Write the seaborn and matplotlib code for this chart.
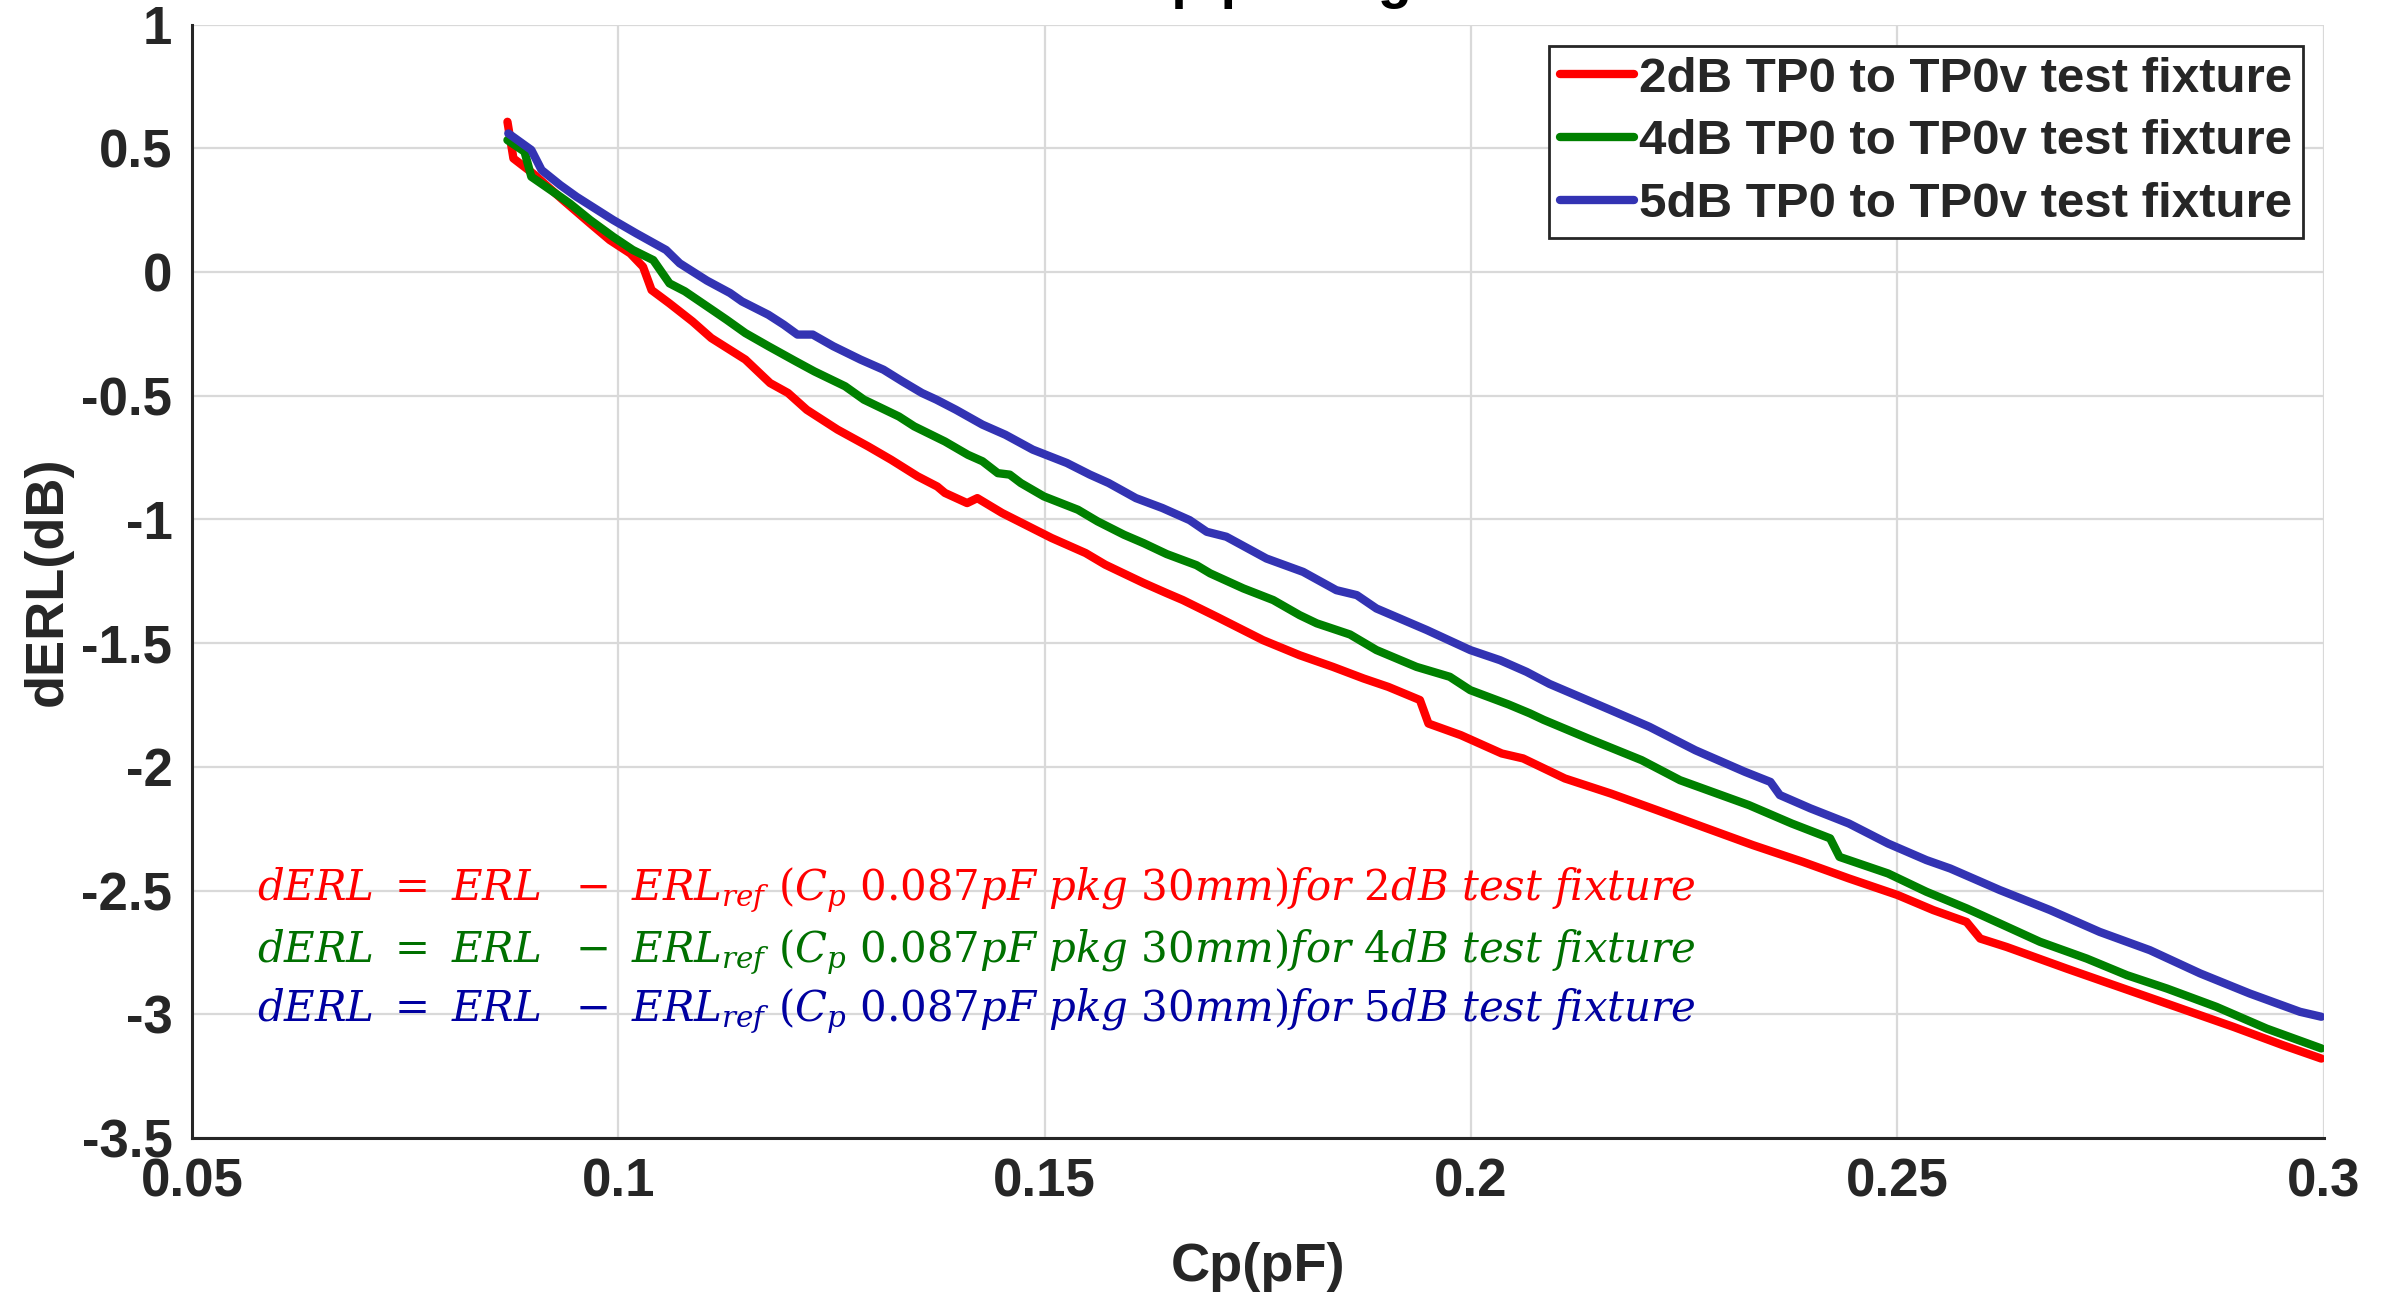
import matplotlib
matplotlib.use('Agg')
import matplotlib.pyplot as plt
import seaborn as sns
import pandas as pd

# Cp (pF) and dERL (dB)
cp_2db = [0.0870, 0.0877, 0.0900, 0.0935, 0.0967, 0.0990, 0.1014, 0.1029, 0.1039, 0.1060,
          0.1087, 0.1109, 0.1149, 0.1178, 0.1199, 0.1221, 0.1257, 0.1293, 0.1320, 0.1351,
          0.1374, 0.1383, 0.1409, 0.1421, 0.1450, 0.1481, 0.1508, 0.1548, 0.1571, 0.1616,
          0.1643, 0.1662, 0.1702, 0.1756, 0.1799, 0.1838, 0.1874, 0.1903, 0.1940, 0.1950,
          0.1988, 0.2036, 0.2061, 0.2110, 0.2164, 0.2218, 0.2272, 0.2331, 0.2389, 0.2443,
          0.2500, 0.2542, 0.2581, 0.2597, 0.2628, 0.2698, 0.2737, 0.2816, 0.2894, 0.2952,
          0.2997]
derl_2db = [0.607, 0.459, 0.398, 0.291, 0.196, 0.129, 0.075, 0.021, -0.073, -0.127,
            -0.200, -0.267, -0.354, -0.449, -0.489, -0.557, -0.637, -0.705, -0.759, -0.826,
            -0.867, -0.893, -0.934, -0.914, -0.974, -1.028, -1.075, -1.136, -1.183, -1.257,
            -1.298, -1.326, -1.394, -1.488, -1.549, -1.596, -1.643, -1.677, -1.730, -1.825,
            -1.872, -1.946, -1.966, -2.047, -2.108, -2.175, -2.243, -2.317, -2.384, -2.451,
            -2.518, -2.579, -2.627, -2.694, -2.728, -2.815, -2.862, -2.957, -3.051, -3.125,
            -3.179]

cp_4db = [0.0870, 0.0890, 0.0898, 0.0932, 0.0943, 0.0967, 0.0994, 0.1017, 0.1041, 0.1060,
          0.1078, 0.1113, 0.1127, 0.1149, 0.1176, 0.1208, 0.1230, 0.1266, 0.1288, 0.1329,
          0.1347, 0.1383, 0.1410, 0.1427, 0.1445, 0.1459, 0.1472, 0.1499, 0.1539, 0.1562,
          0.1593, 0.1616, 0.1643, 0.1678, 0.1694, 0.1733, 0.1768, 0.1799, 0.1819, 0.1858,
          0.1889, 0.1936, 0.1975, 0.1999, 0.2044, 0.2069, 0.2085, 0.2137, 0.2200, 0.2245,
          0.2326, 0.2376, 0.2421, 0.2432, 0.2489, 0.2534, 0.2581, 0.2620, 0.2667, 0.2722,
          0.2769, 0.2816, 0.2874, 0.2933, 0.2997]
derl_4db = [0.533, 0.486, 0.385, 0.304, 0.277, 0.210, 0.142, 0.089, 0.048, -0.046,
            -0.078, -0.160, -0.193, -0.247, -0.300, -0.361, -0.402, -0.462, -0.516, -0.584,
            -0.624, -0.685, -0.739, -0.765, -0.813, -0.819, -0.853, -0.907, -0.961, -1.008,
            -1.062, -1.096, -1.140, -1.185, -1.218, -1.279, -1.326, -1.387, -1.420, -1.465,
            -1.528, -1.596, -1.636, -1.690, -1.748, -1.784, -1.810, -1.885, -1.973, -2.054,
            -2.155, -2.229, -2.289, -2.364, -2.431, -2.505, -2.572, -2.633, -2.707, -2.775,
            -2.842, -2.896, -2.970, -3.058, -3.138]

cp_5db = [0.0871, 0.0898, 0.0910, 0.0932, 0.0951, 0.0994, 0.1021, 0.1056, 0.1072, 0.1104,
          0.1131, 0.1145, 0.1176, 0.1194, 0.1210, 0.1228, 0.1252, 0.1284, 0.1311, 0.1333,
          0.1356, 0.1373, 0.1396, 0.1427, 0.1454, 0.1486, 0.1526, 0.1553, 0.1575, 0.1607,
          0.1638, 0.1670, 0.1690, 0.1713, 0.1760, 0.1803, 0.1842, 0.1866, 0.1889, 0.1948,
          0.1999, 0.2034, 0.2065, 0.2092, 0.2164, 0.2209, 0.2263, 0.2321, 0.2351, 0.2362,
          0.2398, 0.2443, 0.2489, 0.2534, 0.2562, 0.2620, 0.2679, 0.2737, 0.2796, 0.2855,
          0.2913, 0.2972, 0.2997]
derl_5db = [0.560, 0.493, 0.412, 0.351, 0.304, 0.210, 0.156, 0.089, 0.035, -0.035,
            -0.085, -0.119, -0.173, -0.213, -0.253, -0.253, -0.300, -0.354, -0.395, -0.442,
            -0.489, -0.516, -0.557, -0.617, -0.658, -0.718, -0.772, -0.819, -0.853, -0.914,
            -0.954, -1.003, -1.050, -1.070, -1.158, -1.212, -1.286, -1.306, -1.360, -1.447,
            -1.528, -1.569, -1.616, -1.665, -1.771, -1.838, -1.933, -2.020, -2.061, -2.114,
            -2.168, -2.229, -2.310, -2.377, -2.411, -2.498, -2.579, -2.667, -2.741, -2.835,
            -2.916, -2.990, -3.010]

labels = ['2dB TP0 to TP0v test fixture', '4dB TP0 to TP0v test fixture',
          '5dB TP0 to TP0v test fixture']
fixtures = ['2', '4', '5']
x_ticks = [0.05, 0.1, 0.15, 0.2, 0.25, 0.3]
x_tick_labels = ['0.05', '0.1', '0.15', '0.2', '0.25', '0.3']
y_ticks = [1, 0.5, 0, -0.5, -1, -1.5, -2, -2.5, -3, -3.5]
y_tick_labels = ['1', '0.5', '0', '-0.5', '-1', '-1.5', '-2', '-2.5', '-3', '-3.5']

df = pd.DataFrame({
    'cp': cp_2db + cp_4db + cp_5db,
    'derl': derl_2db + derl_4db + derl_5db,
    'fixture': [labels[0]] * len(cp_2db) + [labels[1]] * len(cp_4db) + [labels[2]] * len(cp_5db),
})

line_colors = ['#ff0000', '#008000', '#3333b3']
text_colors = ['#ff0000', '#007000', '#0000a0']

sns.set_theme(style='whitegrid')
plt.rcParams['font.family'] = ['Liberation Sans', 'DejaVu Sans']
plt.rcParams['mathtext.fontset'] = 'dejavuserif'

fig = plt.figure(figsize=(23.96, 12.92), dpi=100)
fig.patch.set_facecolor('white')
ax = fig.add_axes([0.0801, 0.1192, 0.8898, 0.8618])
ax.set_facecolor('white')

sns.lineplot(data=df, x='cp', y='derl', hue='fixture', hue_order=labels,
             palette=line_colors, linewidth=6, ax=ax, legend=False, sort=False)

ax.set_xlim(0.05, 0.3)
ax.set_ylim(-3.5, 1)
ax.set_xticks(x_ticks)
ax.set_xticklabels(x_tick_labels)
ax.set_yticks(y_ticks)
ax.set_yticklabels(y_tick_labels)

ax.grid(True, color='#d9d9d9', linewidth=1.6)
for side in ['top', 'right']:
    ax.spines[side].set_visible(False)
for side in ['left', 'bottom']:
    ax.spines[side].set_visible(True)
    ax.spines[side].set_color('#262626')
    ax.spines[side].set_linewidth(2.2)

ax.tick_params(axis='both', direction='in', length=16, width=1.6, color='#262626',
               labelsize=38, labelcolor='#262626')
ax.tick_params(axis='y', pad=14)
ax.tick_params(axis='x', pad=14)
for lab in ax.get_xticklabels() + ax.get_yticklabels():
    lab.set_fontweight('bold')

ax.set_xlabel('Cp(pF)', fontsize=39, fontweight='bold', color='#262626')
ax.set_ylabel('dERL(dB)', fontsize=39, fontweight='bold', color='#262626')
ax.xaxis.set_label_coords(0.5, -0.093)
ax.yaxis.set_label_coords(-0.056, 0.5)

# title sits mostly above the figure edge, as in the reference
fig.text(895 / 2396, 1.0025, 'dERL vs Cp package', fontsize=40, fontweight='bold',
         ha='left', va='baseline', color='black')

leg = ax.legend(ax.lines[:3], labels, loc='upper right', bbox_to_anchor=(0.990, 0.981),
                borderaxespad=0, frameon=True, fancybox=False,
                handlelength=1.5, handletextpad=0.1, borderpad=0.22, labelspacing=0.36,
                prop={'weight': 'bold', 'size': 35.5})
leg.get_frame().set_edgecolor('#262626')
leg.get_frame().set_linewidth(2)
leg.get_frame().set_alpha(1)

eq_y = [-2.54, -2.79, -3.03]
for fx, col, yy in zip(fixtures, text_colors, eq_y):
    txt = (r'$dERL\ =\ ERL\ \ -\ ERL_{ref}\ (C_p\ 0.087pF\ pkg\ 30mm)for\ '
           + fx + r'dB\ test\ fixture$')
    ax.text(0.0576, yy, txt, color=col, fontsize=30.2, ha='left', va='baseline')

fig.savefig('out.png', dpi=100, facecolor='white')
